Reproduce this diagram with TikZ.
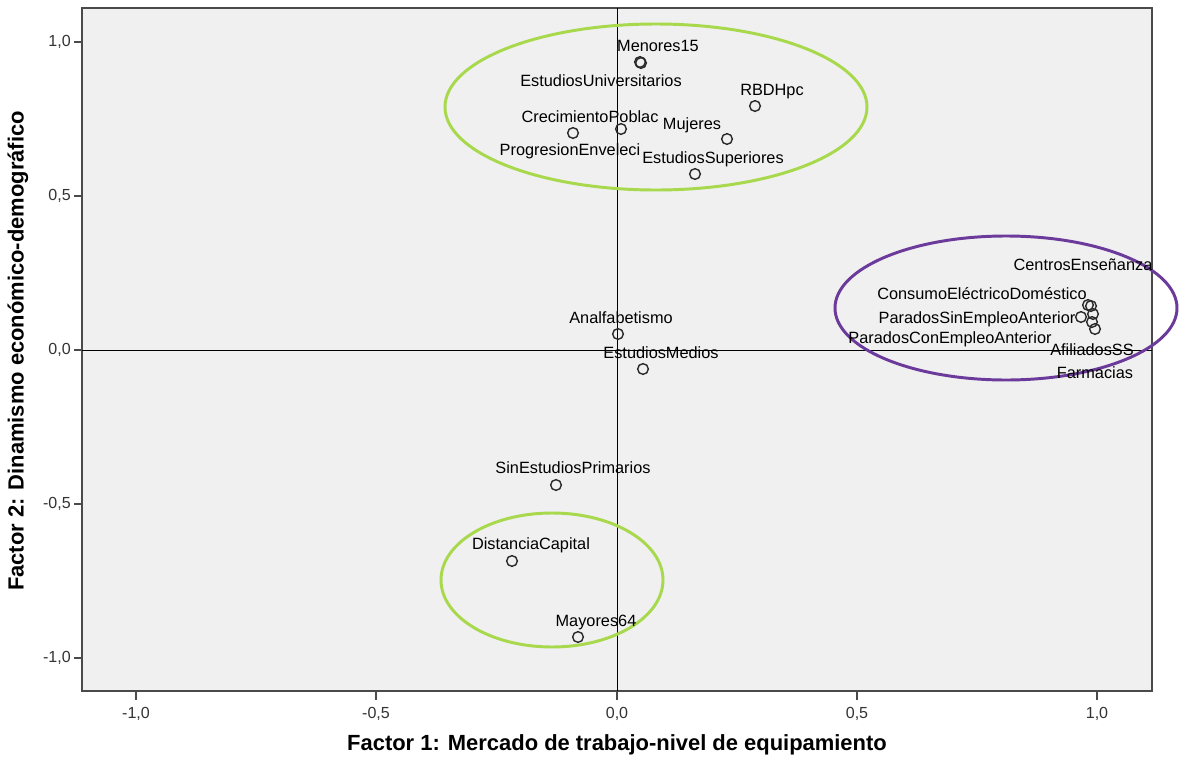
\documentclass[tikz,border=0pt]{standalone}
\usepackage{fontspec}
\setmainfont{Liberation Sans}
\usetikzlibrary{positioning}
\definecolor{plotbg}{HTML}{F0F0F0}
\definecolor{framecol}{HTML}{4A4A4A}
\definecolor{limegreen}{HTML}{A8D84C}
\definecolor{violetline}{HTML}{6B3A9A}
\definecolor{ptcol}{HTML}{2A2A2A}
\begin{document}
\begin{tikzpicture}[x=0.025cm,y=-0.025cm,
  pt/.style={circle,draw=ptcol,line width=1pt,minimum size=7.6pt,inner sep=0pt},
  lbl/.style={font=\fontsize{11.6}{12}\selectfont,inner sep=0pt,anchor=base,text=black},
  tick/.style={draw=framecol,line width=0.9pt},
  ticklbl/.style={font=\fontsize{11.4}{12}\selectfont,inner sep=0pt,text=black!80},
  axtitle/.style={font=\bfseries\fontsize{15.6}{16}\selectfont,inner sep=0pt,text=black},
  grp/.style={line width=2.1pt}]
\useasboundingbox (0,0) rectangle (1180,764);
\fill[white] (0,0) rectangle (1180,764);
% plot area
\fill[plotbg] (82,8) rectangle (1152,691);
\draw[framecol,line width=1.2pt] (82,8) rectangle (1152,691);
% zero axes
\draw[black,line width=0.7pt] (617,8) -- (617,691);
\draw[black,line width=0.7pt] (82,350) -- (1152,350);
% y ticks
\foreach \yy/\tl in {42/{1,0},196/{0,5},350/{0,0},504/{-0,5},658/{-1,0}}{
  \draw[tick] (74,\yy) -- (82,\yy);
  \node[ticklbl,anchor=east] at (71,\yy) {\tl};
}
% x ticks
\foreach \xx/\tl in {136/{-1,0},376/{-0,5},617/{0,0},857/{0,5},1097/{1,0}}{
  \draw[tick] (\xx,691) -- (\xx,700);
  \node[ticklbl] at (\xx,714) {\tl};
}
% axis titles
\node[axtitle] (xt) at (617,745) {Factor 1: Mercado de trabajo-nivel de equipamiento};
\node[axtitle,rotate=90] (yt) at (18,351) {Factor 2: Dinamismo económico-demográfico};
% group ellipses
\draw[grp,limegreen] (656,107) ellipse (211 and 83);
\draw[grp,violetline] (1006,308) ellipse (171 and 72);
\draw[grp,limegreen] (552,580) ellipse (111 and 67);
% points
\node[pt] (menores) at (640,62) {};
\node[pt] (univ) at (641,63) {};
\node[pt] (rbdh) at (755,106) {};
\node[pt] (crec) at (621,129) {};
\node[pt] (progr) at (573,133) {};
\node[pt] (muj) at (727,139) {};
\node[pt] (sup) at (695,174) {};
\node[pt] (analf) at (618,334) {};
\node[pt] (medios) at (643,369) {};
\node[pt] (sinest) at (556,485) {};
\node[pt] (dist) at (512,561) {};
\node[pt] (may) at (578,637) {};
\node[pt] (centros) at (1088,305) {};
\node[pt] (consumo) at (1091,306) {};
\node[pt] (psin) at (1081,317) {};
\node[pt] (pcon) at (1093,314) {};
\node[pt] (afil) at (1092,322) {};
\node[pt] (farm) at (1095,329) {};
% labels
\node[lbl] (lmenores) at (658,51) {Menores15};
\node[lbl] (luniv) at (601,86) {EstudiosUniversitarios};
\node[lbl] (lrbdh) at (772,95) {RBDHpc};
\node[lbl] (lcrec) at (590,122) {CrecimientoPoblac};
\node[lbl] (lprogr) at (570,155) {ProgresionEnveleci};
\node[lbl] (lmuj) at (692,129) {Mujeres};
\node[lbl] (lsup) at (713,163) {EstudiosSuperiores};
\node[lbl] (lanalf) at (621,323) {Analfabetismo};
\node[lbl] (lmedios) at (661,358) {EstudiosMedios};
\node[lbl] (lsinest) at (573,473) {SinEstudiosPrimarios};
\node[lbl] (ldist) at (531,549) {DistanciaCapital};
\node[lbl] (lmay) at (596,626) {Mayores64};
\node[lbl] (lcentros) at (1083,270) {CentrosEnseñanza};
\node[lbl] (lconsumo) at (982,299) {ConsumoEléctricoDoméstico};
\node[lbl] (lpsin) at (977,323) {ParadosSinEmpleoAnterior};
\node[lbl] (lpcon) at (950,343) {ParadosConEmpleoAnterior};
\node[lbl] (lafil) at (1092,355) {AfiliadosSS};
\node[lbl] (lfarm) at (1095,378) {Farmacias};
\end{tikzpicture}
\end{document}
